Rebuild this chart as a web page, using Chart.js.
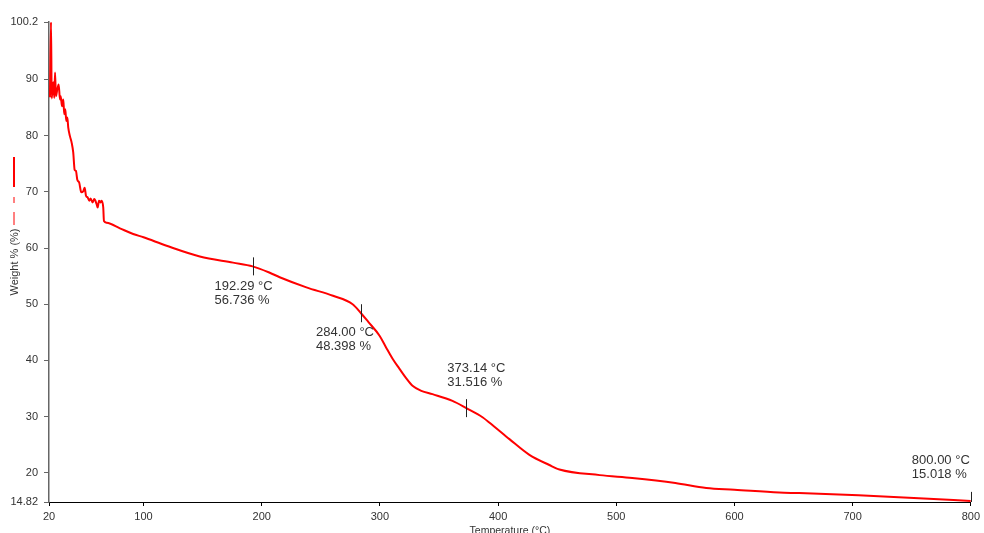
<!DOCTYPE html>
<html>
<head>
<meta charset="utf-8">
<title>TGA - Weight % vs Temperature</title>
<script src="https://cdn.jsdelivr.net/npm/chart.js@4.4.1/dist/chart.umd.min.js"></script>
<style>
  html, body { margin: 0; padding: 0; background: #fff; }
  #wrap { width: 984px; height: 533px; }
</style>
</head>
<body>
<div id="wrap"><canvas id="tga"></canvas></div>
<script>
// TGA run: temperature (°C) and remaining weight (%)
const temps = [
  20.8, 21.7, 22.3, 23.6, 24.5, 25.1, 25.9, 27.0, 28.2, 29.3, 29.9, 31.0, 32.1, 32.9, 33.8,
  34.6, 35.5, 36.3, 37.7, 39.2, 40.5, 41.7, 42.8, 43.9, 45.6, 47.3, 49.0, 50.2, 51.3, 52.7,
  54.1, 55.2, 56.9, 58.3, 60.3, 61.2, 62.3, 63.7, 64.5, 65.9, 66.5, 68.8, 80.0, 91.2, 100.0,
  119.5, 147.6, 175.7, 192.29, 206.8, 215.2, 237.8, 260.3, 276.9, 284.0, 290.0, 299.7, 305.0,
  311.0, 316.6, 322.0, 327.6, 335.0, 344.5, 361.4, 373.14, 386.8, 396.9, 409.6, 426.5, 443.4,
  451.9, 486.0, 513.5, 550.0, 576.1, 600.0, 637.8, 654.7, 705.0, 756.0, 800.0
];
const weights = [
  86.8, 100.2, 86.6, 89.5, 86.7, 91.2, 87.0, 88.2, 89.1, 86.4, 87.0, 85.2, 86.4, 83.8, 84.7,
  82.6, 83.2, 81.4, 79.9, 78.7, 77.0, 73.9, 73.7, 72.2, 71.6, 69.9, 70.1, 70.7, 69.3, 69.0,
  68.4, 68.8, 68.1, 68.7, 67.8, 67.2, 68.4, 68.1, 68.4, 67.2, 64.8, 64.5, 63.5, 62.5, 61.9,
  60.4, 58.5, 57.4, 56.736, 55.6, 54.8, 53.0, 51.5, 50.0, 48.398, 46.9, 44.4, 42.4,
  40.2, 38.5, 36.9, 35.5, 34.6, 34.0, 32.8, 31.516, 29.9, 28.2, 26.0, 23.2, 21.4,
  20.6, 19.6, 19.1, 18.2, 17.3, 17.0, 16.5, 16.4, 16.0, 15.5, 15.018
];

// marked points on the curve
const markTemps = [192.29, 284.00, 373.14, 800.00];
const markWeights = [56.736, 48.398, 31.516, 15.018];

// axis ticks
const xTicks = [20, 100, 200, 300, 400, 500, 600, 700, 800];
const yTicks = [14.82, 20, 30, 40, 50, 60, 70, 80, 90, 100.2];

// text offset (px) of each mark label relative to its point: [dx, dy of first line]
const labelShift = [[-38, 20], [-45, 19], [-19, -40], [-59, -40]];

const FONT = "'Liberation Sans', Arial, sans-serif";
const TEXT = '#333333';

// vertical tick at each marked point plus its two-line label
const markPlugin = {
  id: 'marks',
  afterDatasetsDraw(chart) {
    const { ctx, chartArea, scales: { x, y } } = chart;
    ctx.save();
    ctx.font = '13px ' + FONT;
    ctx.textBaseline = 'middle';
    ctx.textAlign = 'left';
    markTemps.forEach((t, i) => {
      const px = x.getPixelForValue(t);
      const py = y.getPixelForValue(markWeights[i]);
      ctx.save();
      ctx.beginPath();
      ctx.rect(chartArea.left, chartArea.top, chartArea.right - chartArea.left + 2, chartArea.bottom - chartArea.top);
      ctx.clip();
      ctx.strokeStyle = '#222';
      ctx.lineWidth = 1;
      ctx.beginPath();
      ctx.moveTo(Math.round(px) + 0.5, py - 9);
      ctx.lineTo(Math.round(px) + 0.5, py + 9);
      ctx.stroke();
      ctx.restore();

      const [dx, dy] = labelShift[i];
      ctx.fillStyle = TEXT;
      ctx.fillText(t.toFixed(2) + ' °C', px + dx, py + dy);
      ctx.fillText(markWeights[i].toFixed(3) + ' %', px + dx, py + dy + 14);
    });
    ctx.restore();
  },
  // little line sample next to the y axis title
  afterDraw(chart) {
    const { ctx } = chart;
    ctx.save();
    ctx.strokeStyle = '#ff0000';
    ctx.lineWidth = 2;
    ctx.beginPath();
    ctx.moveTo(14, 157);
    ctx.lineTo(14, 187);
    ctx.stroke();
    ctx.lineWidth = 1;
    ctx.beginPath();
    ctx.moveTo(14, 197);
    ctx.lineTo(14, 203);
    ctx.moveTo(14, 212);
    ctx.lineTo(14, 225);
    ctx.stroke();
    ctx.restore();
  }
};

new Chart(document.getElementById('tga'), {
  type: 'line',
  data: {
    datasets: [{
      label: 'Weight %',
      data: temps.map((t, i) => ({ x: t, y: weights[i] })),
      borderColor: '#ff0000',
      borderWidth: 2,
      pointRadius: 0,
      cubicInterpolationMode: 'monotone',
      fill: false
    }]
  },
  options: {
    responsive: true,
    maintainAspectRatio: false,
    animation: false,
    layout: { padding: { top: 22, right: 12, left: 0, bottom: 0 } },
    plugins: {
      legend: { display: false },
      tooltip: { enabled: false }
    },
    scales: {
      x: {
        type: 'linear',
        min: 20,
        max: 800,
        afterBuildTicks: s => { s.ticks = xTicks.map(v => ({ value: v })); },
        afterFit: s => { s.height = 31; },
        border: { color: '#000', width: 1 },
        grid: { drawOnChartArea: false, tickLength: 4, color: '#000' },
        ticks: {
          color: TEXT,
          padding: 4,
          maxRotation: 0,
          font: { family: FONT, size: 11 },
          callback: v => String(v)
        },
        title: {
          display: true,
          text: 'Temperature (°C)',
          color: TEXT,
          font: { family: FONT, size: 10.5 },
          padding: { top: 0, bottom: -4 }
        }
      },
      y: {
        min: 14.82,
        max: 100.2,
        afterBuildTicks: s => { s.ticks = yTicks.map(v => ({ value: v })); },
        afterFit: s => { s.width = 49; },
        border: { color: '#666', width: 1.5 },
        grid: { drawOnChartArea: false, tickLength: 5, color: '#666' },
        ticks: {
          color: TEXT,
          padding: 6,
          font: { family: FONT, size: 11 },
          callback: v => String(v)
        },
        title: {
          display: true,
          text: 'Weight % (%)',
          color: TEXT,
          font: { family: FONT, size: 11 },
          padding: { top: 8, bottom: 0 }
        }
      }
    }
  },
  plugins: [markPlugin]
});
</script>
</body>
</html>
